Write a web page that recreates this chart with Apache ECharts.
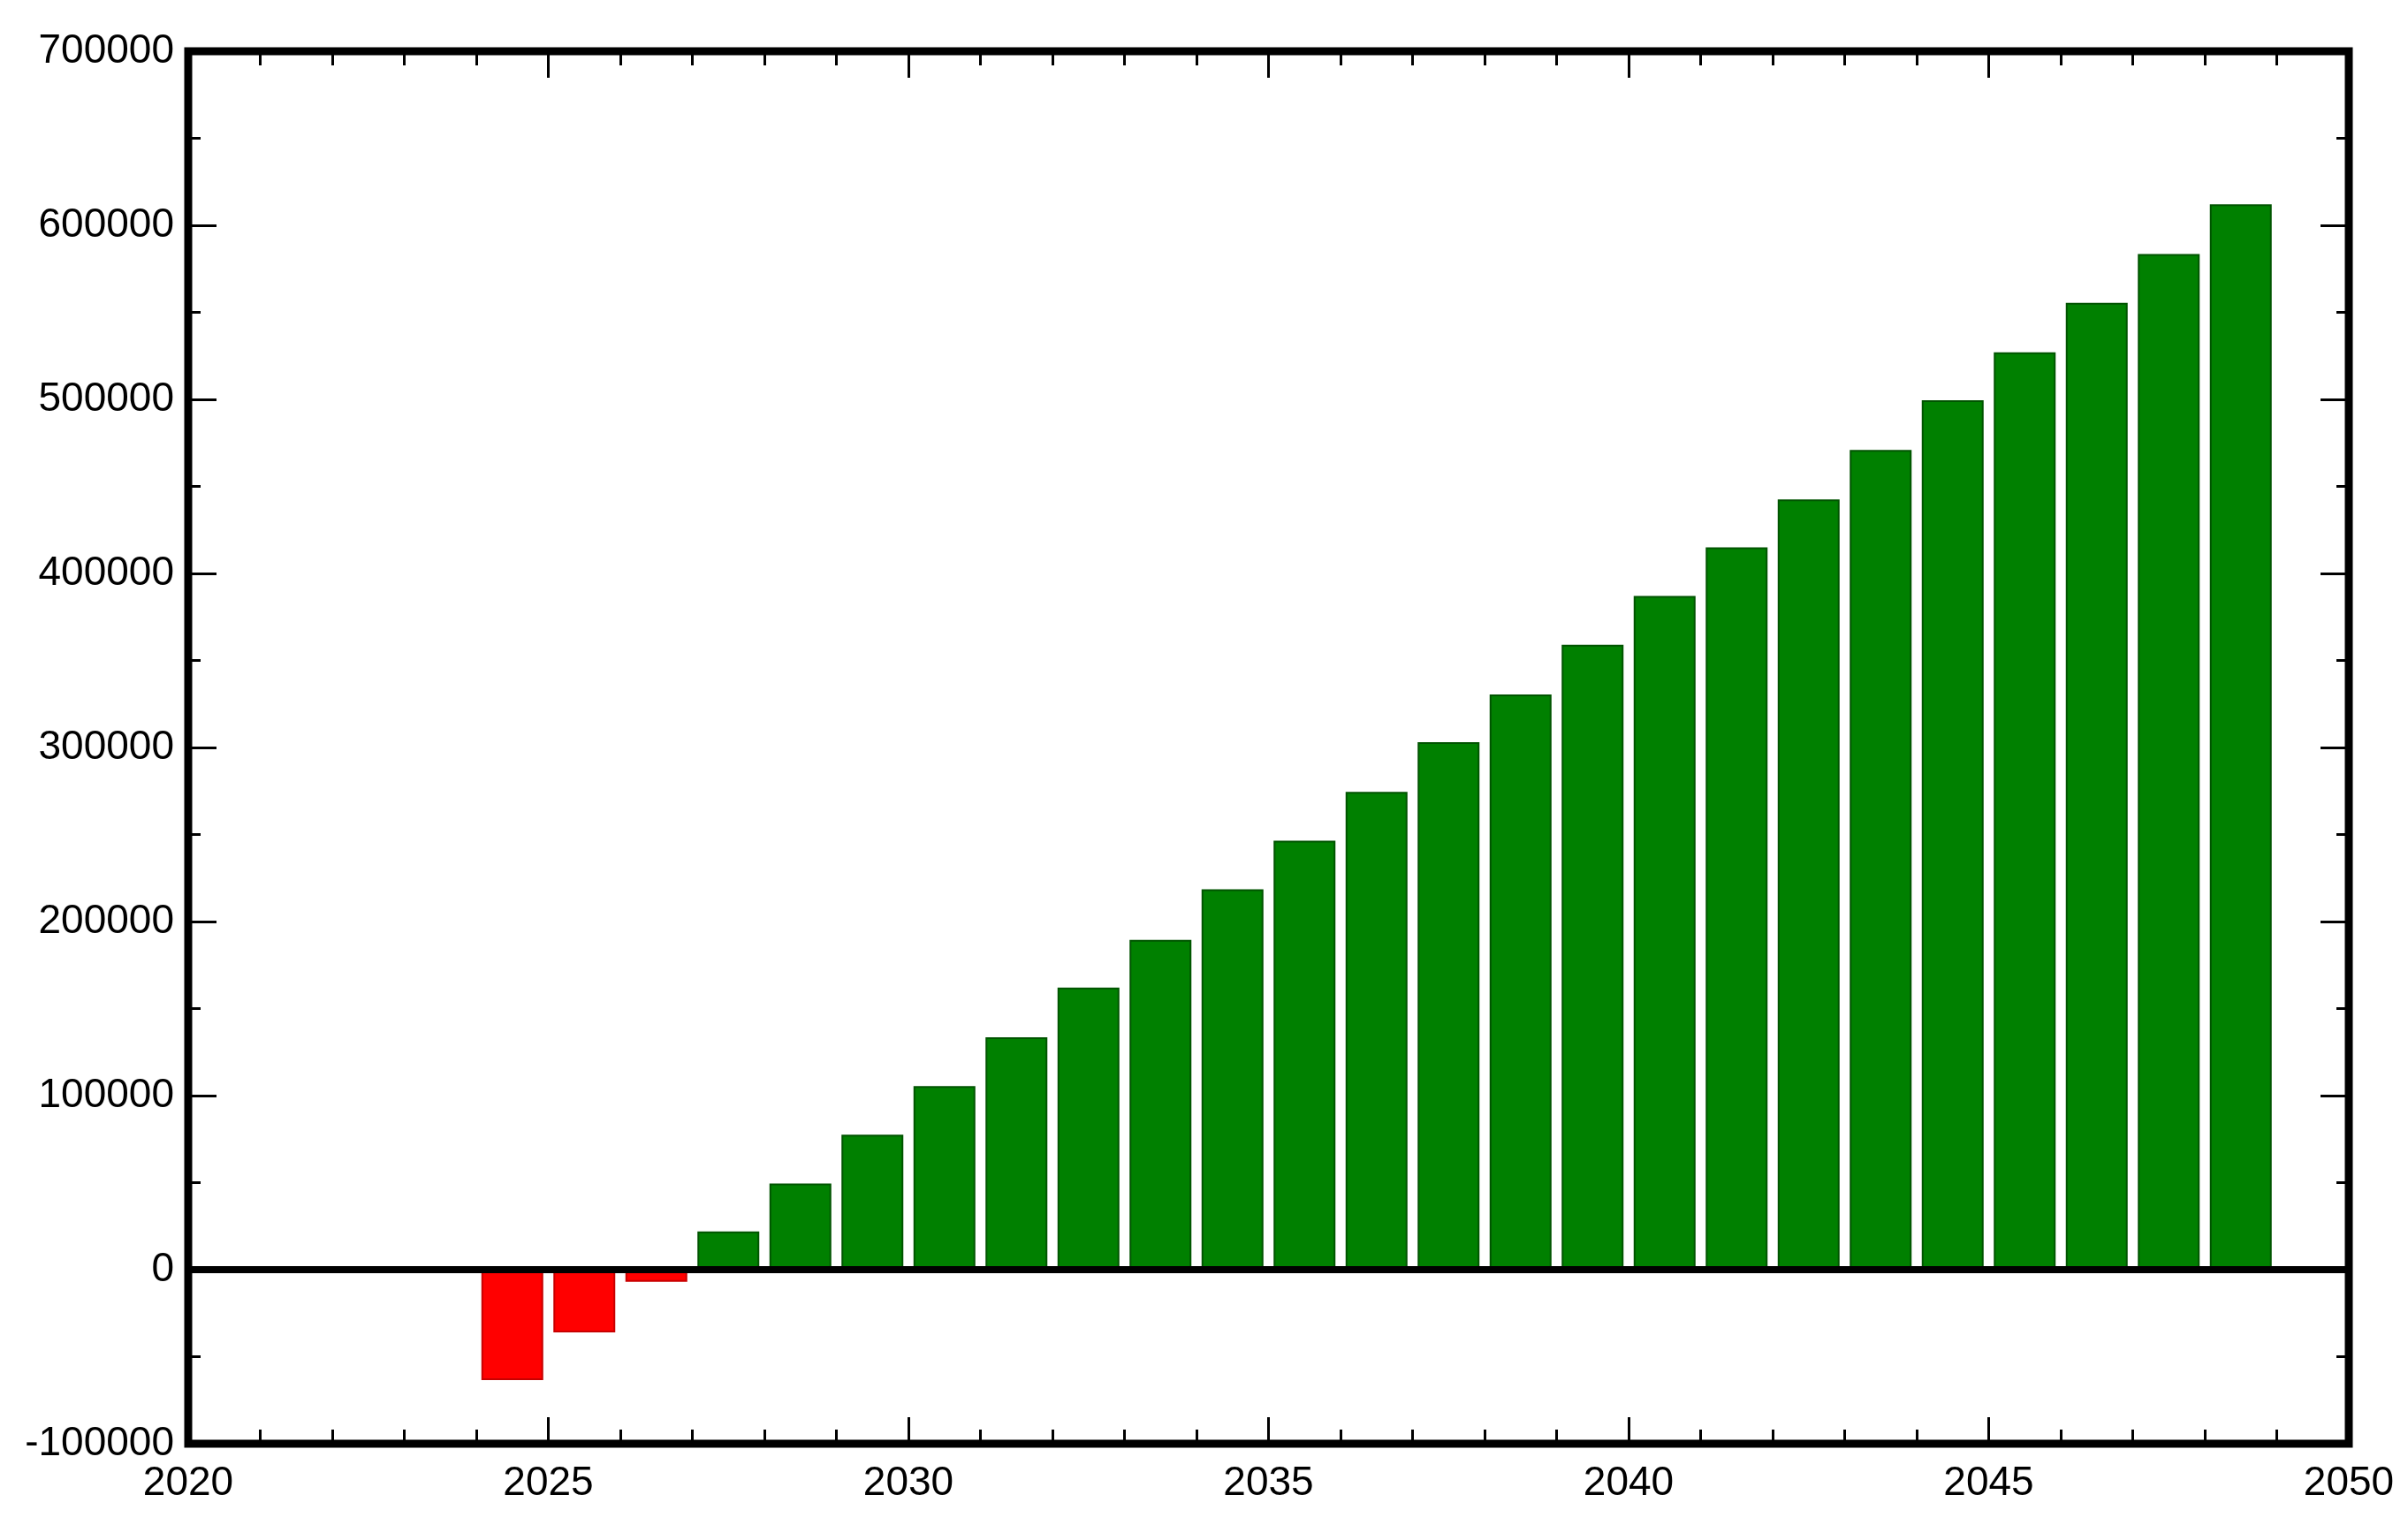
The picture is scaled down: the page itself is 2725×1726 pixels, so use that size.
<!DOCTYPE html>
<html>
<head>
<meta charset="utf-8">
<script src="https://cdn.jsdelivr.net/npm/echarts@6/dist/echarts.min.js"></script>
<style>
html,body{margin:0;padding:0;background:#fff;}
#chart{width:2725px;height:1726px;}
</style>
</head>
<body>
<div id="chart"></div>
<script>
// Data
const years = [2024.5, 2025.5, 2026.5, 2027.5, 2028.5, 2029.5, 2030.5, 2031.5, 2032.5, 2033.5,
               2034.5, 2035.5, 2036.5, 2037.5, 2038.5, 2039.5, 2040.5, 2041.5, 2042.5, 2043.5,
               2044.5, 2045.5, 2046.5, 2047.5, 2048.5];
const values = [-63500, -36000, -7000, 22000, 49500, 77500, 105500, 133500, 162000, 189500,
                218500, 246500, 274500, 303000, 330500, 359000, 387000, 415000, 442500, 471000,
                499500, 527000, 555500, 583500, 612000];
const xTicks = [2020, 2025, 2030, 2035, 2040, 2045, 2050];
const yTicks = [-100000, 0, 100000, 200000, 300000, 400000, 500000, 600000, 700000];

const chart = echarts.init(document.getElementById('chart'), null, {renderer: 'canvas'});
const font = {fontFamily: 'Liberation Sans, Arial, sans-serif', fontSize: 46, color: '#000'};
const tickStyle = {color: '#000', width: 3};

const xBase = {
  type: 'value', min: xTicks[0], max: xTicks[xTicks.length - 1], interval: 5,
  axisLine: {show: false, onZero: false},
  splitLine: {show: false},
  axisTick: {show: true, inside: true, length: 30, lineStyle: tickStyle},
  minorTick: {show: true, splitNumber: 5, length: 16, lineStyle: tickStyle}
};
const yBase = {
  type: 'value', min: yTicks[0], max: yTicks[yTicks.length - 1], interval: 100000,
  axisLine: {show: false, onZero: false},
  splitLine: {show: false},
  axisTick: {show: true, inside: true, length: 32, lineStyle: tickStyle},
  minorTick: {show: true, splitNumber: 2, length: 14, lineStyle: tickStyle}
};

const barData = years.map((y, i) => {
  const neg = values[i] < 0;
  return {
    value: [y, values[i]],
    itemStyle: {
      color: neg ? '#ff0000' : '#008000',
      borderColor: neg ? '#c80000' : '#005400',
      borderWidth: 2
    }
  };
});

chart.setOption({
  animation: false,
  backgroundColor: '#fff',
  grid: {left: 213, right: 67, top: 58, bottom: 92, show: true,
         borderColor: '#000', borderWidth: 9, backgroundColor: 'transparent'},
  xAxis: [
    Object.assign({}, xBase, {position: 'bottom',
      axisLabel: Object.assign({show: true, margin: 22, formatter: v => String(v)}, font)}),
    Object.assign({}, xBase, {position: 'top', axisLabel: {show: false}})
  ],
  yAxis: [
    Object.assign({}, yBase, {position: 'left',
      axisLabel: Object.assign({show: true, margin: 16, formatter: v => String(v)}, font)}),
    Object.assign({}, yBase, {position: 'right', axisLabel: {show: false}})
  ],
  series: [{
    type: 'bar',
    xAxisIndex: 0, yAxisIndex: 0,
    barWidth: 70,
    data: barData,
    markLine: {
      silent: true, symbol: 'none', label: {show: false},
      lineStyle: {color: '#000', width: 8, type: 'solid'},
      data: [{yAxis: 0}]
    },
    z: 2
  }]
});
</script>
</body>
</html>
